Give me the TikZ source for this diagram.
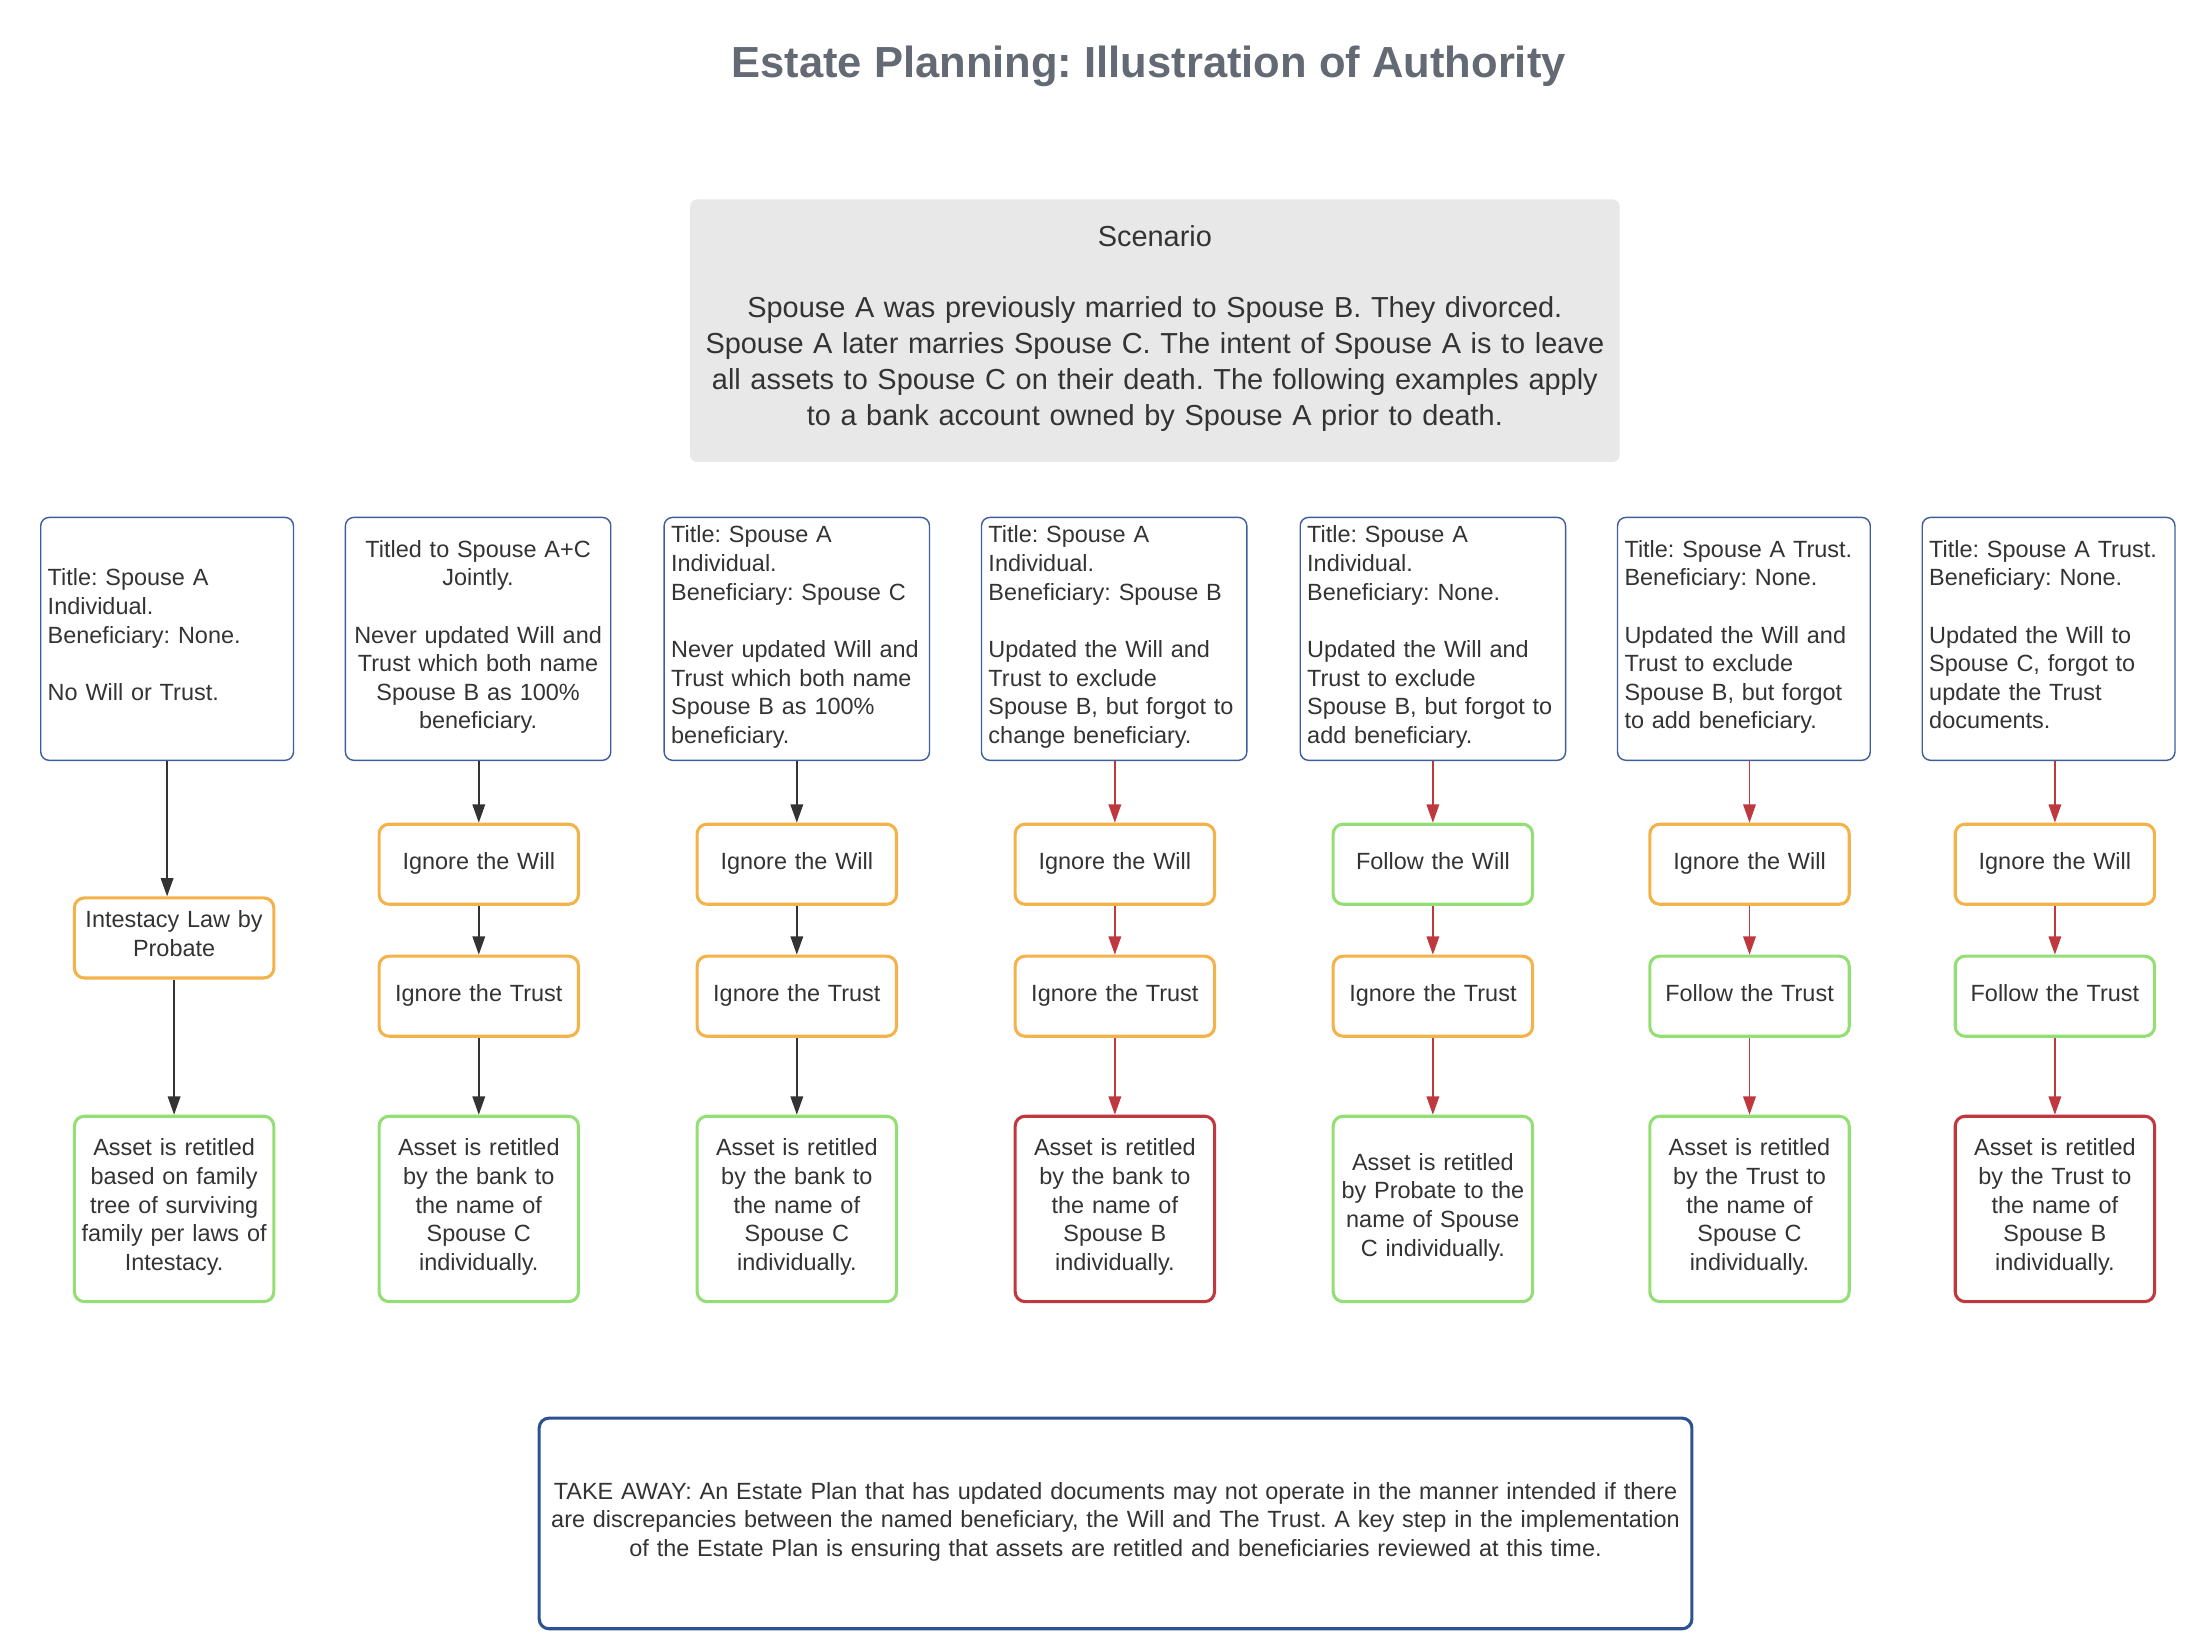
\documentclass[tikz,border=0pt]{standalone}
\usepackage{fontspec}
\setmainfont{Liberation Sans}
\usetikzlibrary{arrows.meta}
\definecolor{txt}{RGB}{51,51,51}
\definecolor{titlegray}{RGB}{100,106,116}
\definecolor{scenfill}{RGB}{232,232,232}
\definecolor{topblue}{RGB}{61,94,158}
\definecolor{takeblue}{RGB}{44,82,145}
\definecolor{orng}{RGB}{244,178,74}
\definecolor{grn}{RGB}{147,223,118}
\definecolor{redc}{RGB}{190,56,62}
\definecolor{darkarrow}{RGB}{51,51,51}
\hyphenpenalty=10000
\exhyphenpenalty=10000
\newcommand\ml[1]{\mbox{#1}}
\begin{document}
\frenchspacing
\begin{tikzpicture}[x=1pt,y=-1pt,
  font=\fontsize{16.7}{20.4}\selectfont, text=txt,
  topbox/.style={draw=topblue, line width=1pt, rounded corners=6pt, minimum height=173pt, inner xsep=5pt, inner ysep=0pt, execute at end node=\strut},
  lowbox/.style={rounded corners=7pt, line width=2.2pt, text width=140pt, inner xsep=1pt, inner ysep=0pt, align=center, execute at end node=\strut},
  obox/.style={lowbox, draw=orng, minimum height=57pt},
  gbox/.style={lowbox, draw=grn, minimum height=57pt},
  ores/.style={lowbox, draw=grn, minimum height=132pt},
  rres/.style={lowbox, draw=redc, minimum height=132pt},
  darr/.style={draw=darkarrow, line width=1pt, -{Triangle[length=13pt,width=9pt]}},
  rarr/.style={draw=redc, line width=1pt, -{Triangle[length=13pt,width=9pt]}}
]
\useasboundingbox (0,0) rectangle (1564,1172);

\node[font=\bfseries\fontsize{31}{37}\selectfont, text=titlegray] (title) at (818,47) {Estate Planning: Illustration of Authority};

\node[fill=scenfill, rounded corners=5pt, minimum width=662pt, minimum height=187pt, text width=656pt, inner xsep=3pt, inner ysep=0pt, align=center, font=\fontsize{20.6}{25.5}\selectfont, execute at end node=\strut] (scen) at (822.5,235.5)
{\ml{Scenario}\\[25.5pt]\ml{Spouse A was previously married to Spouse B. They divorced.}\\\ml{Spouse A later marries Spouse C. The intent of Spouse A is to leave}\\\ml{all assets to Spouse C on their death. The following examples apply}\\\ml{to a bank account owned by Spouse A prior to death.}};

% top boxes
\node[topbox, text width=170pt, align=left] (t1) at (119,455) {\ml{Title: Spouse A}\\\ml{Individual.}\\\ml{Beneficiary: None.}\\[20.4pt]\ml{No Will or Trust.}};
\node[topbox, text width=179pt, align=center] (t2) at (340.5,455) {\ml{Titled to Spouse A+C}\\\ml{Jointly.}\\[20.4pt]\ml{Never updated Will and}\\\ml{Trust which both name}\\\ml{Spouse B as 100\%}\\\ml{beneficiary.}};
\node[topbox, text width=179pt, align=left] (t3) at (567.5,455) {\ml{Title: Spouse A}\\\ml{Individual.}\\\ml{Beneficiary: Spouse C}\\[20.4pt]\ml{Never updated Will and}\\\ml{Trust which both name}\\\ml{Spouse B as 100\%}\\\ml{beneficiary.}};
\node[topbox, text width=179pt, align=left] (t4) at (793.5,455) {\ml{Title: Spouse A}\\\ml{Individual.}\\\ml{Beneficiary: Spouse B}\\[20.4pt]\ml{Updated the Will and}\\\ml{Trust to exclude}\\\ml{Spouse B, but forgot to}\\\ml{change beneficiary.}};
\node[topbox, text width=179pt, align=left] (t5) at (1020.5,455) {\ml{Title: Spouse A}\\\ml{Individual.}\\\ml{Beneficiary: None.}\\[20.4pt]\ml{Updated the Will and}\\\ml{Trust to exclude}\\\ml{Spouse B, but forgot to}\\\ml{add beneficiary.}};
\node[topbox, text width=170pt, align=left] (t6) at (1242,455) {\ml{Title: Spouse A Trust.}\\\ml{Beneficiary: None.}\\[20.4pt]\ml{Updated the Will and}\\\ml{Trust to exclude}\\\ml{Spouse B, but forgot}\\\ml{to add beneficiary.}};
\node[topbox, text width=170pt, align=left] (t7) at (1459,455) {\ml{Title: Spouse A Trust.}\\\ml{Beneficiary: None.}\\[20.4pt]\ml{Updated the Will to}\\\ml{Spouse C, forgot to}\\\ml{update the Trust}\\\ml{documents.}};

% column 1
\node[obox] (i1) at (124,668) {Intestacy Law by\\Probate};
\node[ores] (r1) at (124,861) {Asset is retitled\\based on family\\tree of surviving\\\ml{family per laws of}\\Intestacy.};
% column 2
\node[obox] (w2) at (341,615.5) {Ignore the Will};
\node[obox] (u2) at (341,709.5) {Ignore the Trust};
\node[ores] (r2) at (341,861) {Asset is retitled\\by the bank to\\the name of\\Spouse C\\individually.};
% column 3
\node[obox] (w3) at (567.5,615.5) {Ignore the Will};
\node[obox] (u3) at (567.5,709.5) {Ignore the Trust};
\node[ores] (r3) at (567.5,861) {Asset is retitled\\by the bank to\\the name of\\Spouse C\\individually.};
% column 4
\node[obox] (w4) at (794,615.5) {Ignore the Will};
\node[obox] (u4) at (794,709.5) {Ignore the Trust};
\node[rres] (r4) at (794,861) {Asset is retitled\\by the bank to\\the name of\\Spouse B\\individually.};
% column 5
\node[gbox] (w5) at (1020.5,615.5) {Follow the Will};
\node[obox] (u5) at (1020.5,709.5) {Ignore the Trust};
\node[ores] (r5) at (1020.5,861) {Asset is retitled\\\ml{by Probate to the}\\name of Spouse\\C individually.};
% column 6
\node[obox] (w6) at (1246,615.5) {Ignore the Will};
\node[gbox] (u6) at (1246,709.5) {Follow the Trust};
\node[ores] (r6) at (1246,861) {Asset is retitled\\by the Trust to\\the name of\\Spouse C\\individually.};
% column 7
\node[obox] (w7) at (1463.5,615.5) {Ignore the Will};
\node[gbox] (u7) at (1463.5,709.5) {Follow the Trust};
\node[rres] (r7) at (1463.5,861) {Asset is retitled\\by the Trust to\\the name of\\Spouse B\\individually.};

% take away
\node[draw=takeblue, line width=2.2pt, rounded corners=7pt, minimum width=821pt, minimum height=150pt, text width=813pt, inner xsep=4pt, inner ysep=0pt, align=center, execute at end node=\strut] (take) at (794.5,1085)
{\ml{TAKE AWAY: An Estate Plan that has updated documents may not operate in the manner intended if there}\\\ml{are discrepancies between the named beneficiary, the Will and The Trust. A key step in the implementation}\\\ml{of the Estate Plan is ensuring that assets are retitled and beneficiaries reviewed at this time.}};

% connectors
\draw[darr] (t1.south) -- (t1.south |- i1.north);
\draw[darr] (i1.south) -- (r1.north);
\foreach \k in {2,3} {
  \draw[darr] (t\k.south -| w\k.north) -- (w\k.north);
  \draw[darr] (w\k.south) -- (u\k.north);
  \draw[darr] (u\k.south) -- (r\k.north);
}
\foreach \k in {4,5,6,7} {
  \draw[rarr] (t\k.south -| w\k.north) -- (w\k.north);
  \draw[rarr] (w\k.south) -- (u\k.north);
  \draw[rarr] (u\k.south) -- (r\k.north);
}
\end{tikzpicture}
\end{document}
